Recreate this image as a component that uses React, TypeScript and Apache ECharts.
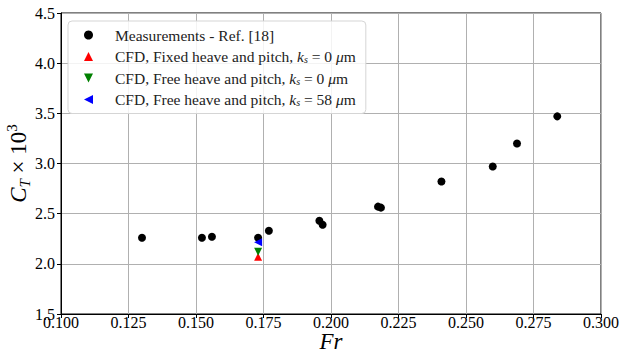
import React, { useEffect, useRef } from "react";
import * as echarts from "echarts";

const measFr = [0.13, 0.1522, 0.1559, 0.173, 0.177, 0.1957, 0.1969, 0.2174, 0.2185, 0.2409, 0.2599, 0.2689, 0.2838];
const measCt = [2.26, 2.26, 2.27, 2.26, 2.33, 2.43, 2.39, 2.57, 2.56, 2.82, 2.97, 3.2, 3.47];
const cfdFixed = [[0.173, 2.07]];
const cfdFree0 = [[0.173, 2.12]];
const cfdFree58 = [[0.173, 2.215]];
const seriesNames = [
  "Measurements - Ref. [18]",
  "CFD, Fixed heave and pitch, ks = 0",
  "CFD, Free heave and pitch, ks = 0",
  "CFD, Free heave and pitch, ks = 58",
];
const legendLabels: Record<string, string> = {
  [seriesNames[0]]: "{n|Measurements - Ref. [18]}",
  [seriesNames[1]]: "{n|CFD, Fixed heave and pitch, }{i|k}{s|s}{n| = 0 }{i|μ}{n|m}",
  [seriesNames[2]]: "{n|CFD, Free heave and pitch, }{i|k}{s|s}{n| = 0 }{i|μ}{n|m}",
  [seriesNames[3]]: "{n|CFD, Free heave and pitch, }{i|k}{s|s}{n| = 58 }{i|μ}{n|m}",
};

const TRI_UP = "path://M5,0 L10,10 L0,10 Z";
const TRI_DOWN = "path://M0,0 L10,0 L5,10 Z";
const TRI_LEFT = "path://M0,5 L10,0 L10,10 Z";

const FONT = "'Liberation Serif', 'DejaVu Serif', serif";

export default function App() {
  const ref = useRef<HTMLDivElement>(null);
  useEffect(() => {
    if (!ref.current) return;
    const chart = echarts.init(ref.current, undefined, { renderer: "svg" });
    const measData = measFr.map((f, i) => [f, measCt[i]]);
    chart.setOption({
      animation: false,
      backgroundColor: "#fff",
      textStyle: { fontFamily: FONT },
      grid: {
        left: 61, right: 20, top: 13, bottom: 47,
        outerBoundsMode: "none", containLabel: false,
        show: true, borderColor: "#000", borderWidth: 1, backgroundColor: "transparent",
      },
      legend: {
        orient: "vertical",
        left: 68, top: 21,
        padding: [6, 10, 6, 16],
        itemGap: 5.5,
        itemWidth: 9, itemHeight: 9,
        backgroundColor: "rgba(255,255,255,0.85)",
        borderColor: "#d5d5d5", borderWidth: 1, borderRadius: 4,
        data: [
          { name: seriesNames[0], icon: "circle" },
          { name: seriesNames[1], icon: TRI_UP },
          { name: seriesNames[2], icon: TRI_DOWN },
          { name: seriesNames[3], icon: TRI_LEFT },
        ],
        formatter: (name: string) => legendLabels[name] || name,
        textStyle: {
          padding: [0, 0, 0, 17],
          fontFamily: FONT,
          rich: {
            n: { fontSize: 15.5, fontFamily: FONT, color: "#222", lineHeight: 16 },
            i: { fontSize: 15.5, fontFamily: FONT, fontStyle: "italic", color: "#222", lineHeight: 16 },
            s: { fontSize: 10, fontFamily: FONT, fontStyle: "italic", color: "#222", lineHeight: 16, verticalAlign: "bottom" },
          },
        },
      },
      xAxis: {
        type: "value", min: 0.1, max: 0.3, interval: 0.025,
        name: "Fr", nameLocation: "middle", nameGap: 19, nameMoveOverlap: false,
        nameTextStyle: { fontFamily: FONT, fontSize: 23, fontStyle: "italic", color: "#000", lineHeight: 16 },
        axisLine: { show: true, lineStyle: { color: "#000", width: 1 } },
        axisTick: { show: true, inside: false, length: 4, lineStyle: { color: "#000" } },
        axisLabel: { fontFamily: FONT, fontSize: 16, color: "#000", margin: 1, lineHeight: 14, formatter: (v: number) => v.toFixed(3) },
        splitLine: { show: true, lineStyle: { color: "#b0b0b0", width: 1 } },
      },
      yAxis: {
        type: "value", min: 1.5, max: 4.5, interval: 0.5,
        name: "{c|C}{t|T}{x| × 10}{e|3}", nameLocation: "middle", nameGap: 29, nameRotate: 90, nameMoveOverlap: false,
        nameTextStyle: {
          fontFamily: FONT, color: "#000",
          rich: {
            c: { fontSize: 23, fontStyle: "italic", fontFamily: FONT, color: "#000", lineHeight: 28 },
            t: { fontSize: 15, fontStyle: "italic", fontFamily: FONT, color: "#000", lineHeight: 28, verticalAlign: "bottom", padding: [10, 0, 0, 0] },
            x: { fontSize: 23, fontFamily: FONT, color: "#000", lineHeight: 28 },
            e: { fontSize: 15, fontFamily: FONT, color: "#000", lineHeight: 28, verticalAlign: "top", padding: [0, 0, 10, 0] },
          },
        },
        axisLine: { show: true, lineStyle: { color: "#000", width: 1 } },
        axisTick: { show: true, inside: false, length: 4, lineStyle: { color: "#000" } },
        axisLabel: { fontFamily: FONT, fontSize: 16, color: "#000", margin: 6, formatter: (v: number) => v.toFixed(1) },
        splitLine: { show: true, lineStyle: { color: "#b0b0b0", width: 1 } },
      },
      series: [
        { name: seriesNames[0], type: "scatter", data: measData, symbol: "circle", symbolSize: 8, itemStyle: { color: "#000", opacity: 1 } },
        { name: seriesNames[1], type: "scatter", data: cfdFixed, symbol: TRI_UP, symbolSize: 8, itemStyle: { color: "#ff0000", opacity: 1 } },
        { name: seriesNames[2], type: "scatter", data: cfdFree0, symbol: TRI_DOWN, symbolSize: 8, itemStyle: { color: "#008000", opacity: 1 } },
        { name: seriesNames[3], type: "scatter", data: cfdFree58, symbol: TRI_LEFT, symbolSize: 8, itemStyle: { color: "#0000ff", opacity: 1 } },
      ],
    });
    return () => chart.dispose();
  }, []);
  return <div ref={ref} style={{ width: 621, height: 361, position: "absolute", left: 0, top: 0 }} />;
}
